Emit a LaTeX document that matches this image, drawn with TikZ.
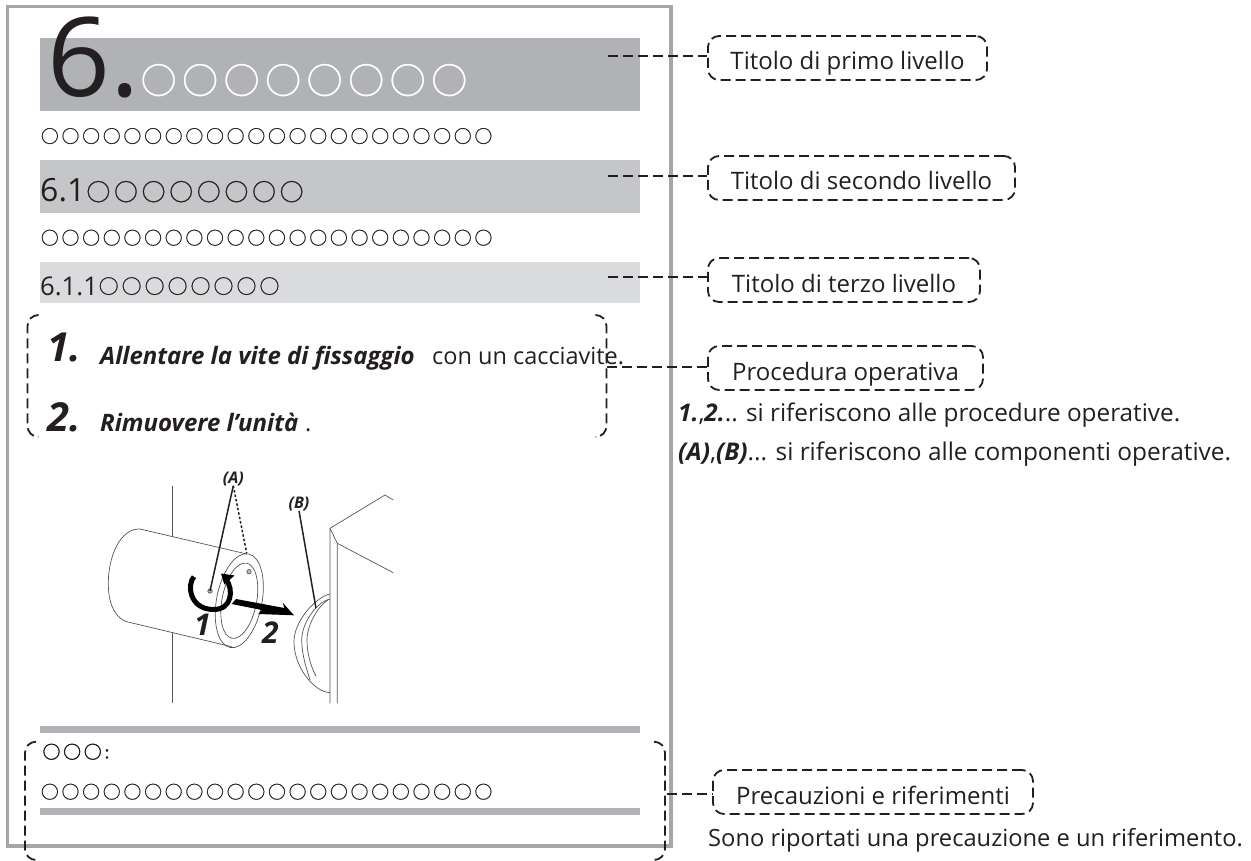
\documentclass[tikz,border=0pt]{standalone}
\usepackage{fontspec}
\setmainfont{Open Sans}
\newfontfamily\cjkfont[LetterSpace=16,FakeBold=0.8]{Noto Sans CJK JP}
\newfontfamily\cjkheavy[LetterSpace=16,FakeBold=2]{Noto Sans CJK JP}
\usetikzlibrary{shapes}
\definecolor{inkdark}{HTML}{231F20}
\definecolor{framegray}{HTML}{A8A6A2}
\definecolor{barone}{HTML}{B1B2B5}
\definecolor{bartwo}{HTML}{C5C6C8}
\definecolor{barthree}{HTML}{DADBDD}
\definecolor{thingray}{HTML}{555555}
\newcommand{\fsz}[1]{\fontsize{#1}{#1}\selectfont}
\tikzset{
	txt/.style={anchor=base west,inner sep=0pt,text=inkdark},
	dashline/.style={draw=inkdark,line width=1.8pt,dash pattern=on 10pt off 5pt},
	callout/.style={dashline,rounded corners=11pt,inner sep=0pt,minimum height=44pt,
		text height=29pt,text depth=5pt,text=inkdark,font=\fsz{24}},
	thinline/.style={draw=thingray,line width=0.7pt},
	leader/.style={draw=inkdark,line width=1.5pt}
}
\begin{document}
\begin{tikzpicture}[x=1pt,y=1pt]
		\useasboundingbox (0,0) rectangle (1251,-861);
		\draw [framegray,line width=3.5pt] (7.5,-6.5) rectangle (671,-846);
		\fill [barone] (40,-38) rectangle (640,-110.7);
		\fill [bartwo] (40,-160) rectangle (640,-212.7);
		\fill [barthree] (40,-262) rectangle (640,-302.7);
		\fill [barone] (40,-726) rectangle (640,-732.7);
		\fill [barone] (40,-808.3) rectangle (640,-815);
		% headings
		\node [txt,font=\fsz{110}] (numa) at (47,-96.7) {6.};
		\node [txt,font=\cjkfont\fsz{35.8},text=white] (rowa) at (140.5,-93.7) {○○○○○○○○};
		\node [txt,font=\cjkfont\fsz{17.8}] (bodya) at (40.75,-142.8) {○○○○○○○○○○○○○○○○○○○○○○};
		\node [txt,font=\fsz{32}] (numb) at (40,-202) {6.1};
		\node [txt,font=\cjkfont\fsz{23.8}] (rowb) at (86.3,-200.7) {○○○○○○○○};
		\node [txt,font=\cjkfont\fsz{17.8}] (bodyb) at (40.75,-244.5) {○○○○○○○○○○○○○○○○○○○○○○};
		\node [txt,font=\fsz{25.7}] (numc) at (40,-295) {6.1.1};
		\node [txt,font=\cjkfont\fsz{19.8}] (rowc) at (98.6,-293.6) {○○○○○○○○};
		% steps
		\node [txt,font=\fsz{40}\bfseries\itshape] (stepa) at (47,-361.7) {1.};
		\node [txt,font=\fsz{40}\bfseries\itshape] (stepb) at (47,-431) {2.};
		\node [txt,font=\fsz{24}\bfseries\itshape] (stepatxt) at (100,-364) {Allentare la vite di fissaggio};
		\node [txt,font=\fsz{23.5}] (stepatail) at (432,-364) {con un cacciavite.};
		\node [txt,font=\fsz{24}\bfseries\itshape] (stepbtxt) at (100,-431) {Rimuovere l’unità};
		\node [txt,font=\fsz{23.5}] (stepbtail) at (305,-431) {.};
		\draw [dashline,rounded corners=11pt] (38,-315) -- (27.5,-315) -- (27.5,-437) -- (38,-437);
		\draw [dashline,rounded corners=11pt] (596,-315) -- (606.5,-315) -- (606.5,-437) -- (596,-437);
		% notes
		\node [txt,font=\cjkheavy\fsz{17.8}] (notea) at (42.4,-758.5) {○○○:};
		\node [txt,font=\cjkfont\fsz{17.8}] (noteb) at (40.75,-798.5) {○○○○○○○○○○○○○○○○○○○○○○};
		\draw [dashline,rounded corners=11pt] (36,-741.7) -- (25,-741.7) -- (25,-860) -- (36,-860);
		\draw [dashline,rounded corners=11pt] (654,-741.7) -- (665,-741.7) -- (665,-860) -- (654,-860);
		% callouts
		\node [callout,draw,minimum width=279pt] (boxa) at (847.5,-58) {Titolo di primo livello};
		\node [callout,draw,minimum width=307pt] (boxb) at (861.5,-178) {Titolo di secondo livello};
		\node [callout,draw,minimum width=272pt] (boxc) at (844,-280) {Titolo di terzo livello};
		\node [callout,draw,minimum width=275pt] (boxd) at (845.5,-368) {Procedura operativa};
		\node [callout,draw,minimum width=320pt] (boxe) at (873,-792) {Precauzioni e riferimenti};
		\coordinate (tipa) at (608,-55.7);
		\coordinate (tipb) at (608,-175.7);
		\coordinate (tipc) at (608,-277.3);
		\coordinate (tipd) at (607,-366.7);
		\coordinate (tipe) at (667,-794);
		\draw [dashline] (tipa) -- (tipa -| boxa.west);
		\draw [dashline] (tipb) -- (tipb -| boxb.west);
		\draw [dashline] (tipc) -- (tipc -| boxc.west);
		\draw [dashline] (tipd) -- (tipd -| boxd.west);
		\draw [dashline] (tipe) -- (tipe -| boxe.west);
		\node [txt,font=\fsz{24.3}] (expa) at (678,-421.7) {\textbf{\textit{1.}},\textbf{\textit{2.}}.. si riferiscono alle procedure operative.};
		\node [txt,font=\fsz{24.4}] (expb) at (678,-460) {\textbf{\textit{(A)}},\textbf{\textit{(B)}}... si riferiscono alle componenti operative.};
		\node [txt,font=\fsz{23.7}] (expc) at (708,-846) {Sono riportati una precauzione e un riferimento.};
		% wall and cylinder
		\draw [thinline] (172.3,-486) -- (172.3,-537.3);
		\draw [thinline] (172.3,-631.7) -- (172.3,-703.3);
		\draw [thinline] (140,-529) -- (246.7,-554);
		\draw [thinline] (140,-529) .. controls (120,-528.3) and (108.3,-556.7) .. (108.3,-583.3)
			.. controls (108.3,-606.7) and (116.7,-618.3) .. (126.7,-621.7) -- (231.7,-646.7);
		\draw [thinline] (239.3,-600.7) ellipse [x radius=22.7,y radius=47.7,rotate=-11];
		\draw [thinline] (239.3,-600.7) ellipse [x radius=17.3,y radius=38.3,rotate=-11];
		\coordinate (holea) at (210,-591);
		\coordinate (holeb) at (249,-571.7);
		\draw [thinline,fill=gray!50] (holea) circle (2.2);
		\draw [thinline,fill=gray!50] (holeb) circle (2.2);
		% unit body
		\draw [thinline,fill=white] (330,-594) .. controls (316.7,-596.7) and (294,-620) .. (294,-641.7)
			.. controls (294,-666.7) and (313.3,-691.7) .. (330,-692.7);
		\draw [thinline] (330,-599) .. controls (318,-601) and (301.7,-622) .. (301.7,-640)
			.. controls (301.7,-655) and (307,-670) .. (310,-680);
		\draw [thinline] (328,-600) .. controls (318,-606) and (307,-625) .. (307,-640)
			.. controls (307,-652) and (310,-665) .. (316,-676);
		\draw [thinline] (330,-703.3) -- (330,-528.3) -- (385,-495) -- (393.3,-500);
		\draw [thinline] (337.3,-703.3) -- (337.3,-543.3) -- (393.3,-572.7);
		\draw [thinline] (330,-528.3) -- (337.3,-543.3);
		% arrows
		\draw [black,line width=5pt] (194,-576.7) .. controls (187,-584) and (189,-609) .. (213,-609.5)
			.. controls (232,-610) and (234,-590) .. (226,-579);
		\fill [black] (221,-573.5) -- (234.5,-575.5) -- (224.3,-584.5);
		\fill [black] (236,-599) -- (284.3,-608) -- (282.7,-602.7) -- (294,-615.3) -- (258.3,-614) -- (261.7,-610) -- (231.7,-604);
		\node [txt,font=\fsz{30}\bfseries\itshape] (turn) at (194,-635) {1};
		\node [txt,font=\fsz{30}\bfseries\itshape] (pull) at (262,-643) {2};
		% leaders
		\node [anchor=base,inner sep=0pt,text=inkdark,font=\fsz{16}\bfseries\itshape] (laba) at (233.3,-483) {(A)};
		\node [anchor=base,inner sep=0pt,text=inkdark,font=\fsz{16}\bfseries\itshape] (labb) at (299,-508) {(B)};
		\coordinate (knob) at (316,-608.3);
		\coordinate (rim) at (246.7,-553.3);
		\draw [leader] (laba.south) -- (holea);
		\draw [leader,dash pattern=on 2.5pt off 2pt] (laba.south) -- (rim);
		\draw [leader] (labb.south) -- (knob);
		\end{tikzpicture}
\end{document}
